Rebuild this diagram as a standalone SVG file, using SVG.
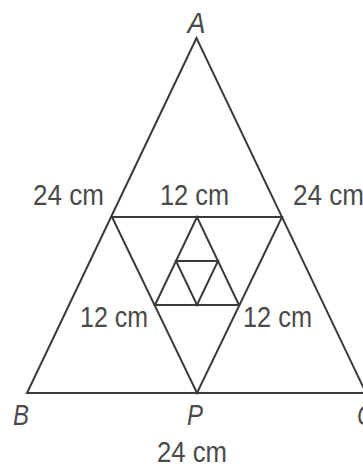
<svg xmlns="http://www.w3.org/2000/svg" width="363" height="468" viewBox="0 0 363 468">
<style>
.ln{stroke:#3a3a3a;stroke-width:2;fill:none;stroke-linejoin:miter}
.lb{font-family:"Liberation Sans",Arial,sans-serif;font-size:29px;fill:#4a4a4a}
.pt{font-family:"Liberation Sans",Arial,sans-serif;font-size:29px;font-style:italic;fill:#4a4a4a}
</style>
<rect width="363" height="468" fill="#ffffff"/>
<g id="lines">
<polygon class="ln" points="196.5,38 27,393 366,393"/>
<polygon class="ln" points="112,217 282,217 197,393"/>
<polygon class="ln" points="197,217 155,305 239,305"/>
<polygon class="ln" points="176,261 218,261 197,305"/>
</g>
<g id="labels">
<text class="pt" x="196.5" y="33" text-anchor="middle" textLength="18" lengthAdjust="spacingAndGlyphs">A</text>
<text class="pt" x="13" y="425" textLength="16" lengthAdjust="spacingAndGlyphs">B</text>
<text class="pt" x="187" y="425" textLength="16" lengthAdjust="spacingAndGlyphs">P</text>
<text class="pt" x="357" y="425" textLength="17" lengthAdjust="spacingAndGlyphs">C</text>
<text class="lb" x="33" y="205" textLength="71" lengthAdjust="spacingAndGlyphs">24 cm</text>
<text class="lb" x="160" y="205" textLength="69" lengthAdjust="spacingAndGlyphs">12 cm</text>
<text class="lb" x="293" y="205" textLength="71" lengthAdjust="spacingAndGlyphs">24 cm</text>
<text class="lb" x="80" y="327" textLength="68" lengthAdjust="spacingAndGlyphs">12 cm</text>
<text class="lb" x="243" y="327" textLength="69" lengthAdjust="spacingAndGlyphs">12 cm</text>
<text class="lb" x="157" y="462" textLength="70" lengthAdjust="spacingAndGlyphs">24 cm</text>
</g>
</svg>
